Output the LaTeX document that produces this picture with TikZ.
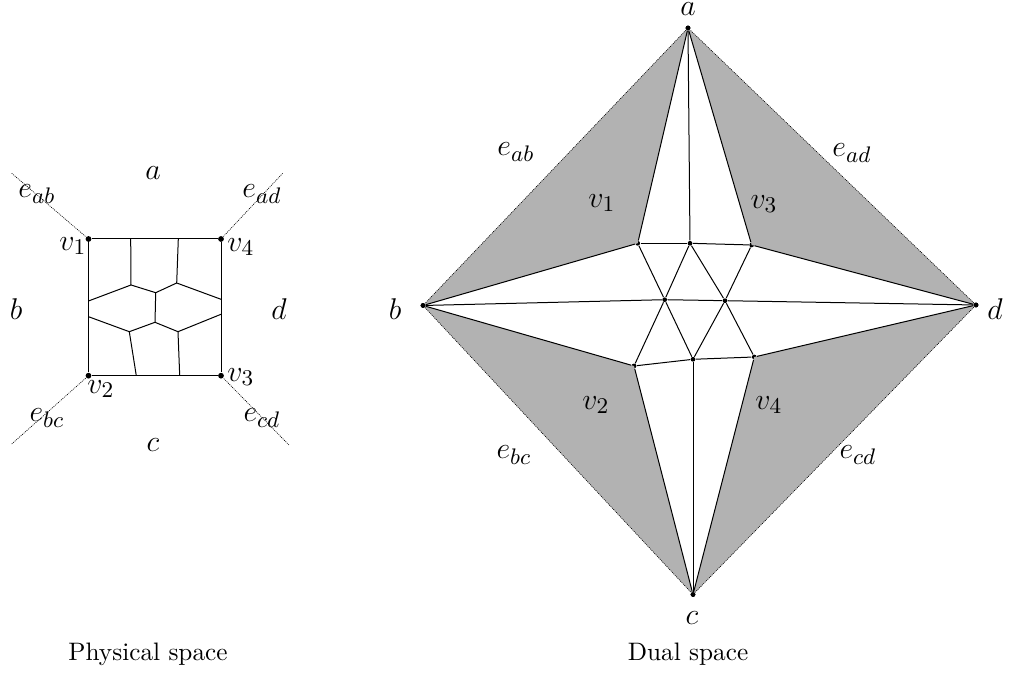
\documentclass[tikz,border=0pt]{standalone}
\begin{document}
\begin{tikzpicture}[x=0.4pt, y=-0.4pt,
    vertex/.style={circle, fill=black, inner sep=0pt, minimum size=1.9pt},
    bigvertex/.style={circle, fill=black, inner sep=0pt, minimum size=2.3pt},
    leg/.style={line width=0.25pt, dash pattern=on 0.4pt off 0.4pt},
    lab/.style={font=\fontsize{13}{15}\selectfont, inner sep=0pt},
    caption/.style={font=\fontsize{10.1}{12}\selectfont}]
  \useasboundingbox (0,0) rectangle (1014,677);
  % physical space
  \node[bigvertex] (v1) at (88.5,239) {};
  \node[bigvertex] (v2) at (88.5,375.7) {};
  \node[bigvertex] (v3) at (221,375.7) {};
  \node[bigvertex] (v4) at (221,239) {};
  \coordinate (lab) at (11.7,173.3);
  \coordinate (lad) at (282.7,173.3);
  \coordinate (lbc) at (11.7,444);
  \coordinate (lcd) at (289,445);
  \coordinate (t1) at (130.7,239);
  \coordinate (t2) at (178.3,239);
  \coordinate (s1) at (136.3,375.7);
  \coordinate (s2) at (179.7,375.7);
  \coordinate (w1) at (88.5,301);
  \coordinate (w2) at (88.5,316.7);
  \coordinate (e1) at (221,299.3);
  \coordinate (e2) at (221,314.3);
  \coordinate (m1) at (131,285);
  \coordinate (m2) at (155.7,292.7);
  \coordinate (m3) at (176.7,283);
  \coordinate (m4) at (129.3,331.7);
  \coordinate (m5) at (155,322.3);
  \coordinate (m6) at (178,331.7);
  \draw (v1) -- (v4) -- (v3) -- (v2) -- (v1);
  \draw[leg] (lab) -- (v1);
  \draw[leg] (lad) -- (v4);
  \draw[leg] (lbc) -- (v2);
  \draw[leg] (lcd) -- (v3);
  \draw (t1) -- (m1);
  \draw (t2) -- (m3);
  \draw (w1) -- (m1) -- (m2) -- (m3) -- (e1);
  \draw (w2) -- (m4) -- (m5) -- (m6) -- (e2);
  \draw (m2) -- (m5);
  \draw (m4) -- (s1);
  \draw (m6) -- (s2);
  \node[lab] (la) at (153,173) {$a$};
  \node[lab] (lb) at (16,309) {$b$};
  \node[lab] (lc) at (153,445) {$c$};
  \node[lab] (ld) at (279,309) {$d$};
  \node[lab] (lv1) at (73,246) {$v_1$};
  \node[lab] (lv2) at (101,389) {$v_2$};
  \node[lab] (lv3) at (241,377) {$v_3$};
  \node[lab] (lv4) at (241,247) {$v_4$};
  \node[lab] (leab) at (37,194) {$e_{ab}$};
  \node[lab] (lead) at (262,194) {$e_{ad}$};
  \node[lab] (lebc) at (47,418) {$e_{bc}$};
  \node[lab] (lecd) at (262,418) {$e_{cd}$};
  \node[caption] (physical) at (148,654) {Physical space};
  % dual space
  \node[vertex] (a) at (688,28) {};
  \node[vertex] (b) at (423,305.5) {};
  \node[vertex] (c) at (693,594.5) {};
  \node[vertex] (d) at (976,305) {};
  \node[vertex] (p1) at (637.7,243.3) {};
  \node[vertex] (p2) at (690,243.3) {};
  \node[vertex] (p3) at (751.7,245) {};
  \node[vertex] (q1) at (664.7,299.7) {};
  \node[vertex] (q2) at (725,300.7) {};
  \node[vertex] (r1) at (634,366) {};
  \node[vertex] (r2) at (693,359.3) {};
  \node[vertex] (r3) at (754.3,357) {};
  \fill[black!30] (a.center) -- (p1.center) -- (b.center) -- cycle;
  \fill[black!30] (a.center) -- (p3.center) -- (d.center) -- cycle;
  \fill[black!30] (b.center) -- (r1.center) -- (c.center) -- cycle;
  \fill[black!30] (c.center) -- (r3.center) -- (d.center) -- cycle;
  \draw[leg] (a) -- (b);
  \draw[leg] (b) -- (c);
  \draw[leg] (c) -- (d);
  \draw[leg] (d) -- (a);
  \draw (a) -- (p1);
  \draw (a) -- (p2);
  \draw (a) -- (p3);
  \draw (b) -- (p1);
  \draw (b) -- (q1);
  \draw (b) -- (r1);
  \draw (d) -- (p3);
  \draw (d) -- (q2);
  \draw (d) -- (r3);
  \draw (c) -- (r1);
  \draw (c) -- (r2);
  \draw (c) -- (r3);
  \draw (p1) -- (p2);
  \draw (p2) -- (p3);
  \draw (p1) -- (q1);
  \draw (p2) -- (q1);
  \draw (p2) -- (q2);
  \draw (p3) -- (q2);
  \draw (q1) -- (q2);
  \draw (q1) -- (r1);
  \draw (q1) -- (r2);
  \draw (q2) -- (r2);
  \draw (q2) -- (r3);
  \draw (r1) -- (r2);
  \draw (r2) -- (r3);
  \fill (a) circle (0.95pt);
  \fill (b) circle (0.95pt);
  \fill (c) circle (0.95pt);
  \fill (d) circle (0.95pt);
  \node[lab] (na) at (688,9) {$a$};
  \node[lab] (nb) at (395,309) {$b$};
  \node[lab] (nc) at (692,618) {$c$};
  \node[lab] (nd) at (995,309) {$d$};
  \node[lab] (nv1) at (602,203) {$v_1$};
  \node[lab] (nv2) at (596,405) {$v_2$};
  \node[lab] (nv3) at (764,204) {$v_3$};
  \node[lab] (nv4) at (769,405) {$v_4$};
  \node[lab] (neab) at (516,152) {$e_{ab}$};
  \node[lab] (nead) at (852,153) {$e_{ad}$};
  \node[lab] (nebc) at (514,455) {$e_{bc}$};
  \node[lab] (necd) at (858,455) {$e_{cd}$};
  \node[caption] (dual) at (688,654) {Dual space};
\end{tikzpicture}
\end{document}
